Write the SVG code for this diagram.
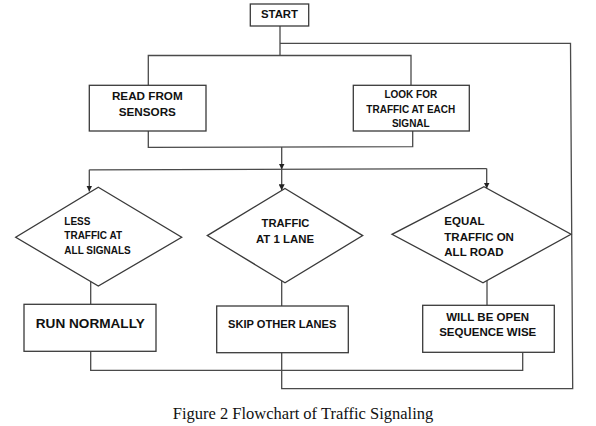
<svg xmlns="http://www.w3.org/2000/svg" width="596" height="426" viewBox="0 0 596 426">
<style>
.box{fill:#fff;stroke:#3a3a3a;stroke-width:1.3}
.ln{fill:none;stroke:#4a4a4a;stroke-width:1.3}
.t{font-family:"Liberation Sans",Arial,sans-serif;font-weight:bold;fill:#111}
.c{text-anchor:middle}
.cap{font-family:"Liberation Serif","Times New Roman",serif;font-size:16.5px;fill:#111;text-anchor:middle}
</style>
<defs>
<marker id="arr" viewBox="0 0 8 8" refX="8" refY="4" markerWidth="6" markerHeight="6" markerUnits="userSpaceOnUse" orient="auto">
<path d="M0,0 L8,4 L0,8 Z" fill="#222"/>
</marker>
</defs>
<rect width="596" height="426" fill="#fff"/>
<g id="connectors">
<path class="ln" d="M280,26 V55.5"/>
<path class="ln" d="M281.7,352.7 V388.7 H572.7 L570.5,43.3 H280"/>
<path class="ln" d="M148.3,85 V55.5 H411 V85"/>
<path class="ln" d="M148.3,131 V147.3 L412.7,146.7 V131"/>
<path class="ln" d="M281.7,147 V169.5" marker-end="url(#arr)"/>
<path class="ln" d="M89.3,169.8 L486.7,168.6"/>
<path class="ln" d="M89.3,169.8 V191.5" marker-end="url(#arr)"/>
<path class="ln" d="M281.7,169.3 V190.3" marker-end="url(#arr)"/>
<path class="ln" d="M486.7,168.6 V188.5" marker-end="url(#arr)"/>
<path class="ln" d="M90.7,281.6 V304.3"/>
<path class="ln" d="M281.7,280.8 V306"/>
<path class="ln" d="M487,280.6 V305.3"/>
<path class="ln" d="M90.7,351.3 V370.3 H522.7 V352.3"/>
</g>
<g id="start">
<rect class="box" x="250.3" y="4" width="58.4" height="22"/>
<text class="t c" x="279.5" y="18.4" font-size="11.4">START</text>
</g>
<g id="read-sensors">
<rect class="box" x="89.3" y="85.3" width="116.7" height="45.7"/>
<text class="t c" x="147.3" y="100.1" font-size="11.7">READ FROM</text>
<text class="t c" x="147.3" y="115.8" font-size="11.7">SENSORS</text>
</g>
<g id="look-traffic">
<rect class="box" x="353.3" y="85.3" width="116" height="45.7"/>
<text class="t c" x="410.8" y="98.3" font-size="10">LOOK FOR</text>
<text class="t c" x="410.8" y="112.6" font-size="10">TRAFFIC AT EACH</text>
<text class="t c" x="410.8" y="126.6" font-size="10">SIGNAL</text>
</g>
<g id="less-traffic">
<polygon class="box" points="98.3,187.3 181.7,237.3 98.3,286 15.7,237.3"/>
<text class="t" x="64.3" y="224.9" font-size="10">LESS</text>
<text class="t" x="64.3" y="239.3" font-size="10">TRAFFIC AT</text>
<text class="t" x="64.3" y="253.6" font-size="10">ALL SIGNALS</text>
</g>
<g id="traffic-one-lane">
<polygon class="box" points="285,188.5 362.7,235.6 285,282.7 207.3,235.6"/>
<text class="t c" x="285.5" y="226.7" font-size="11.2">TRAFFIC</text>
<text class="t c" x="285" y="243.3" font-size="11.4">AT 1 LANE</text>
</g>
<g id="equal-traffic">
<polygon class="box" points="484,186.7 571,234.3 483,282.7 392,234.3"/>
<text class="t" x="444.3" y="224.8" font-size="11.5">EQUAL</text>
<text class="t" x="444.3" y="240.8" font-size="11.5">TRAFFIC ON</text>
<text class="t" x="444.3" y="255.8" font-size="11.5">ALL ROAD</text>
</g>
<g id="run-normally">
<rect class="box" x="24" y="304.3" width="132" height="47"/>
<text class="t c" x="90.3" y="328.2" font-size="13.6">RUN NORMALLY</text>
</g>
<g id="skip-lanes">
<rect class="box" x="216.7" y="306" width="131.6" height="46.7"/>
<text class="t c" x="282.2" y="328.3" font-size="11.1">SKIP OTHER LANES</text>
</g>
<g id="sequence-wise">
<rect class="box" x="422.7" y="305.3" width="131.6" height="47"/>
<text class="t c" x="487.7" y="320.8" font-size="11.5">WILL BE OPEN</text>
<text class="t c" x="487.7" y="336.4" font-size="11.5">SEQUENCE WISE</text>
</g>
<text class="cap" x="303" y="419.3">Figure 2 Flowchart of Traffic Signaling</text>
</svg>
